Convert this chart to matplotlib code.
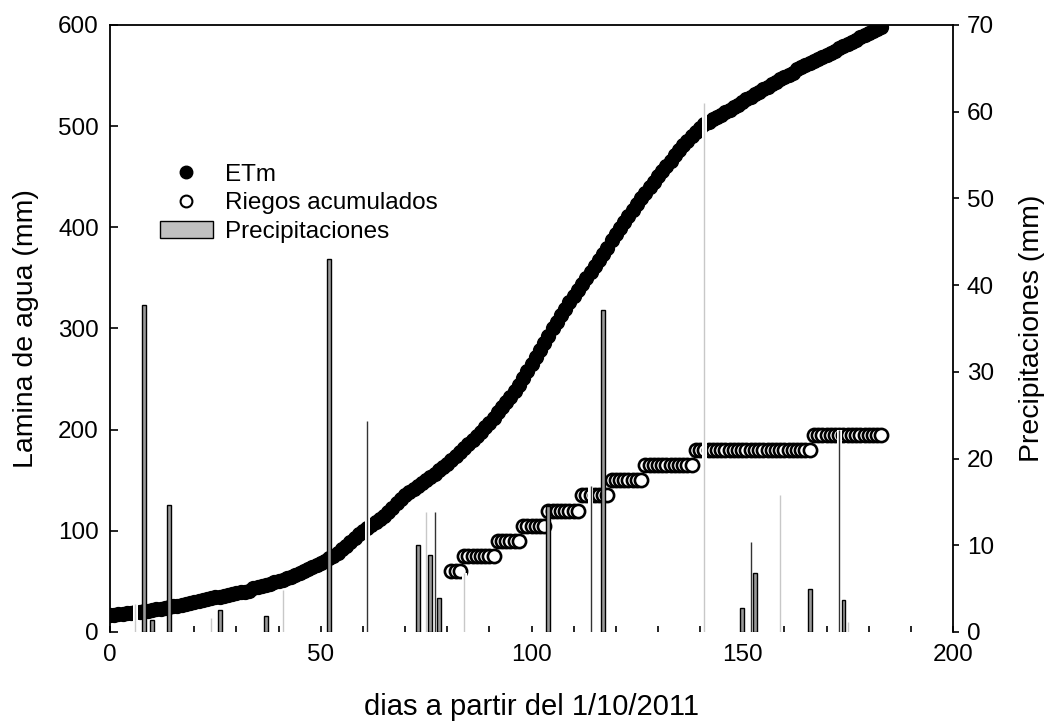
import numpy as np
import matplotlib
matplotlib.use('Agg')
import matplotlib.pyplot as plt
from matplotlib.lines import Line2D
from matplotlib.patches import Patch

plt.rcParams['font.family'] = ['Liberation Sans', 'DejaVu Sans']

# ETm acumulada (mm), un valor por dia desde el dia 0
etm = [
    17, 17, 18, 18, 19, 19, 20, 20, 21, 21,
    22, 23, 23, 24, 25, 26, 26, 27, 28, 29,
    30, 31, 32, 33, 34, 35, 35, 36, 37, 38,
    39, 40, 40, 41, 43, 44, 45, 46, 47, 49,
    50, 51, 53, 54, 56, 58, 60, 62, 64, 66,
    68, 70, 73, 75, 78, 82, 85, 89, 93, 97,
    100, 103, 106, 109, 112, 115, 119, 123, 127, 131,
    135, 138, 141, 144, 147, 150, 153, 156, 160, 163,
    166, 170, 174, 178, 182, 186, 190, 194, 198, 203,
    207, 212, 217, 222, 227, 232, 238, 244, 251, 258,
    265, 272, 279, 286, 293, 300, 306, 313, 319, 326,
    332, 338, 344, 350, 356, 362, 368, 374, 380, 387,
    393, 399, 405, 411, 417, 423, 429, 434, 440, 445,
    451, 456, 461, 466, 471, 476, 481, 485, 490, 494,
    498, 502, 504, 507, 509, 511, 514, 516, 519, 521,
    524, 527, 529, 532, 534, 537, 539, 542, 544, 547,
    549, 551, 553, 556, 558, 560, 562, 564, 566, 568,
    570, 572, 574, 577, 579, 581, 583, 585, 588, 590,
    592, 594, 596, 598,
]
etm_days = np.arange(len(etm))

# riegos acumulados (mm): dia de inicio de cada escalon y valor
riego_start = [81, 84, 92, 98, 104, 112, 119, 127, 139, 167]
riego_mm = [60, 75, 90, 105, 120, 135, 150, 165, 180, 195]
riego_end = 183

# precipitaciones (mm)
prec_days = [8, 10, 14, 26, 37, 52, 73, 76, 78, 104, 117, 150, 153, 166, 174]
prec_mm = [37.7, 1.4, 14.6, 2.5, 1.9, 43.0, 10.0, 8.9, 3.9, 14.5, 37.1, 2.8, 6.8, 5.0, 3.7]
thin_days = [61, 77, 114, 152, 173]
thin_mm = [24.3, 13.8, 16.8, 10.4, 23.3]
light_days = [6, 24, 41, 75, 84, 141, 159, 175]
light_mm = [3.2, 1.6, 4.8, 13.8, 6.8, 61.0, 15.8, 1.2]

# escalones -> un punto por dia
counts = np.diff(riego_start + [riego_end + 1])
riego_days = np.arange(riego_start[0], riego_end + 1)
riego_vals = np.repeat(riego_mm, counts)

fig = plt.figure(figsize=(10.49, 7.24), dpi=100)
ax = fig.add_axes([0.1049, 0.1271, 0.8036, 0.8384])
ax2 = ax.twinx()

ax.plot(etm_days, etm, 'o', color='black', markersize=10, zorder=3)
ax.plot(riego_days, riego_vals, 'o', markerfacecolor='white', markeredgecolor='black',
        markersize=9.5, markeredgewidth=1.9, zorder=3)

ax.set_xlim(0, 200)
ax.set_ylim(0, 600)
ax.set_xticks(np.arange(0, 201, 10))
ax.set_xticklabels([str(d) if d % 50 == 0 else '' for d in range(0, 201, 10)])
ax.set_yticks(np.arange(0, 601, 100))
ax.tick_params(axis='y', direction='in', length=6, width=1.2, labelsize=17.5, pad=8)
ax.tick_params(axis='x', direction='in', length=4, width=1.2, labelsize=17.5, pad=9)
ax.spines['bottom'].set_visible(False)
ax.spines['right'].set_visible(False)
for s in ['left', 'top']:
    ax.spines[s].set_linewidth(1.3)

# barras de precipitacion
ax2.bar(light_days, light_mm, width=1.2, color='white', linewidth=0, zorder=2)
ax2.vlines(light_days, 0, light_mm, colors='#c8c8c8', linewidth=1.0, zorder=3)
ax2.bar(thin_days, thin_mm, width=1.2, color='white', linewidth=0, zorder=2)
ax2.vlines(thin_days, 0, thin_mm, colors='#333333', linewidth=1.0, zorder=3)
ax2.bar(prec_days, prec_mm, width=0.9, color='#9a9a9a', edgecolor='black',
        linewidth=1.0, zorder=4)

ax2.set_ylim(0, 70)
ax2.set_yticks(np.arange(0, 71, 10))
ax2.tick_params(axis='y', direction='out', length=4, width=1.2, labelsize=17.5, pad=6)
for s in ['left', 'top', 'bottom']:
    ax2.spines[s].set_visible(False)
ax2.spines['right'].set_linewidth(1.3)

ax.set_xlabel('dias a partir del 1/10/2011', fontsize=21, labelpad=19)
ax.set_ylabel('Lamina de agua (mm)', fontsize=20.5, labelpad=14)
ax2.set_ylabel('Precipitaciones (mm)', fontsize=20.5, labelpad=18)

handles = [
    Line2D([], [], marker='o', linestyle='none', color='black', markersize=9),
    Line2D([], [], marker='o', linestyle='none', markerfacecolor='white',
           markeredgecolor='black', markersize=8.5, markeredgewidth=1.5),
    Patch(facecolor='#c0c0c0', edgecolor='black', linewidth=1.0),
]
ax2.legend(handles, ['ETm', 'Riegos acumulados', 'Precipitaciones'],
           loc='upper left', bbox_to_anchor=(0.059, 0.771), frameon=False,
           fontsize=17.5, borderpad=0, borderaxespad=0, handlelength=2.18,
           handletextpad=0.5, labelspacing=0.26)

fig.savefig('out.png', dpi=100)
